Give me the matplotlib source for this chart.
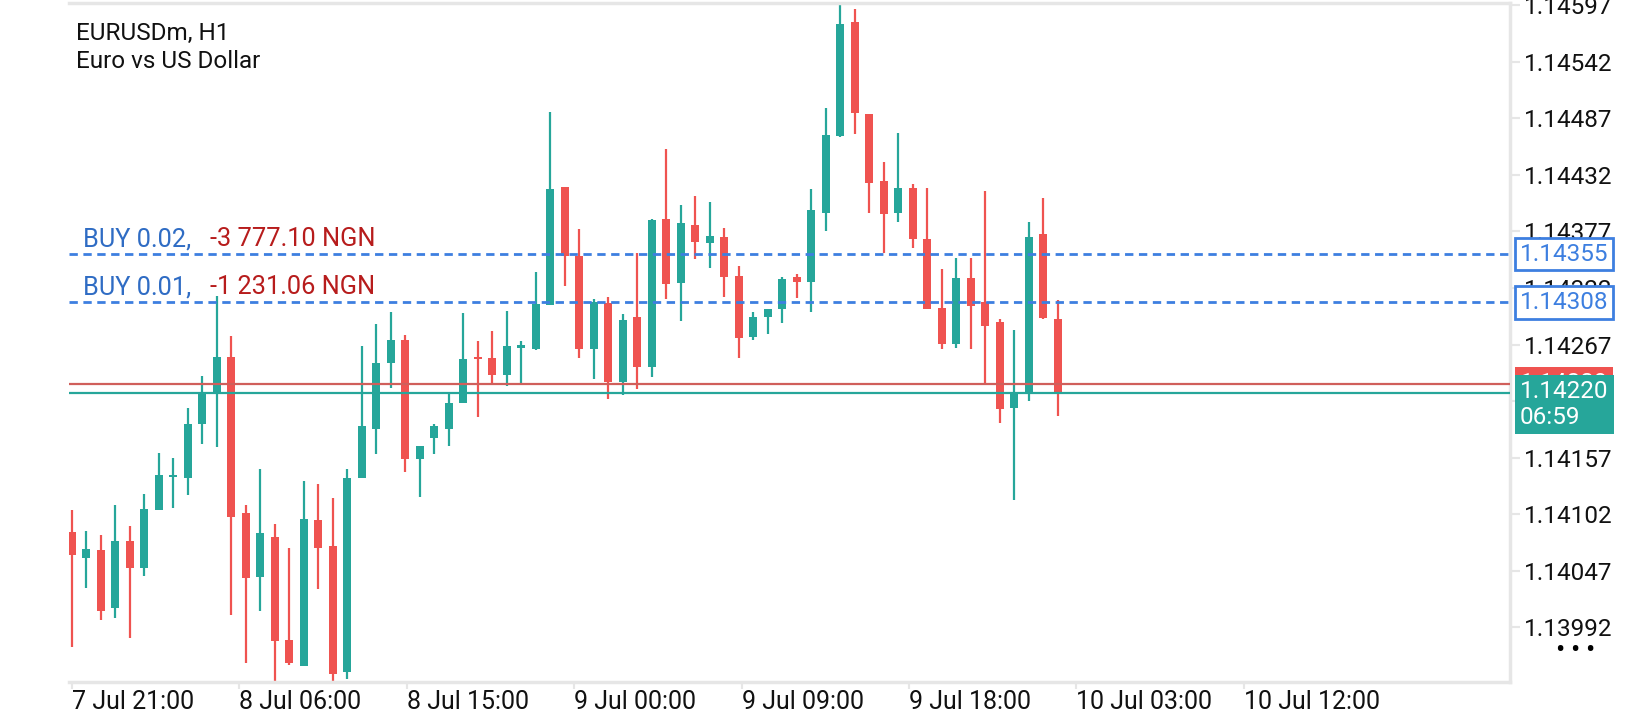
import matplotlib
matplotlib.use("Agg")
import matplotlib.pyplot as plt
import matplotlib.transforms as mtransforms
import numpy as np

plt.rcParams['font.family'] = ['Roboto', 'DejaVu Sans']

# EURUSDm H1 candles, oldest first
opens = [1.14085, 1.14060, 1.14067, 1.14011, 1.14076, 1.14050, 1.14106, 1.14138, 1.14137, 1.14190,
         1.14221, 1.14255, 1.14103, 1.14041, 1.14080, 1.13980, 1.13955, 1.14096, 1.14071, 1.13949,
         1.14137, 1.14185, 1.14249, 1.14271, 1.14156, 1.14176, 1.14185, 1.14210, 1.14255, 1.14254,
         1.14237, 1.14264, 1.14263, 1.14305, 1.14420, 1.14353, 1.14263, 1.14307, 1.14231, 1.14294,
         1.14245, 1.14389, 1.14327, 1.14383, 1.14366, 1.14372, 1.14334, 1.14274, 1.14294, 1.14302,
         1.14333, 1.14328, 1.14395, 1.14470, 1.14581, 1.14491, 1.14426, 1.14395, 1.14419, 1.14370,
         1.14303, 1.14268, 1.14332, 1.14308, 1.14289, 1.14205, 1.14221, 1.14374, 1.14292]
highs = [1.14106, 1.14086, 1.14082, 1.14111, 1.14091, 1.14122, 1.14162, 1.14157, 1.14205, 1.14236,
         1.14314, 1.14275, 1.14111, 1.14146, 1.14093, 1.14069, 1.14134, 1.14131, 1.14118, 1.14146,
         1.14266, 1.14287, 1.14299, 1.14276, 1.14168, 1.14190, 1.14220, 1.14298, 1.14270, 1.14280,
         1.14300, 1.14270, 1.14338, 1.14493, 1.14420, 1.14379, 1.14311, 1.14313, 1.14297, 1.14356,
         1.14389, 1.14457, 1.14403, 1.14411, 1.14406, 1.14380, 1.14343, 1.14299, 1.14302, 1.14333,
         1.14336, 1.14418, 1.14497, 1.14598, 1.14593, 1.14491, 1.14444, 1.14473, 1.14423, 1.14419,
         1.14340, 1.14351, 1.14351, 1.14416, 1.14292, 1.14281, 1.14386, 1.14409, 1.14310]
lows = [1.13973, 1.14030, 1.13999, 1.14001, 1.13982, 1.14042, 1.14106, 1.14108, 1.14121, 1.14170,
        1.14167, 1.14004, 1.13957, 1.14008, 1.13937, 1.13956, 1.13955, 1.14029, 1.13938, 1.13942,
        1.14137, 1.14161, 1.14225, 1.14143, 1.14119, 1.14161, 1.14168, 1.14210, 1.14197, 1.14229,
        1.14227, 1.14229, 1.14262, 1.14305, 1.14324, 1.14254, 1.14234, 1.14214, 1.14218, 1.14224,
        1.14235, 1.14311, 1.14290, 1.14350, 1.14341, 1.14313, 1.14254, 1.14271, 1.14277, 1.14288,
        1.14312, 1.14299, 1.14377, 1.14469, 1.14472, 1.14395, 1.14356, 1.14386, 1.14361, 1.14302,
        1.14263, 1.14264, 1.14263, 1.14229, 1.14191, 1.14116, 1.14212, 1.14292, 1.14198]
closes = [1.14062, 1.14068, 1.14008, 1.14076, 1.14050, 1.14107, 1.14140, 1.14140, 1.14190, 1.14221,
          1.14255, 1.14099, 1.14040, 1.14084, 1.13979, 1.13957, 1.14097, 1.14069, 1.13947, 1.14137,
          1.14188, 1.14249, 1.14271, 1.14156, 1.14168, 1.14188, 1.14210, 1.14253, 1.14253, 1.14237,
          1.14266, 1.14267, 1.14306, 1.14418, 1.14353, 1.14263, 1.14308, 1.14231, 1.14291, 1.14245,
          1.14388, 1.14326, 1.14385, 1.14367, 1.14373, 1.14333, 1.14273, 1.14294, 1.14302, 1.14331,
          1.14328, 1.14398, 1.14471, 1.14579, 1.14492, 1.14424, 1.14394, 1.14419, 1.14370, 1.14302,
          1.14268, 1.14332, 1.14304, 1.14285, 1.14204, 1.14219, 1.14372, 1.14293, 1.14220]

time_labels = ["7 Jul 21:00", "8 Jul 06:00", "8 Jul 15:00", "9 Jul 00:00",
               "9 Jul 09:00", "9 Jul 18:00", "10 Jul 03:00", "10 Jul 12:00"]
price_ticks = [1.14597, 1.14542, 1.14487, 1.14432, 1.14377, 1.14322, 1.14267,
               1.14212, 1.14157, 1.14102, 1.14047, 1.13992]

positions = [
    ("BUY 0.02,", "-3 777.10 NGN", 1.14355),
    ("BUY 0.01,", "-1 231.06 NGN", 1.14308),
]
bid = 1.14220
ask = 1.14229
bar_timer = "06:59"

UP = "#26a69a"
DOWN = "#ef5350"
BLUE = "#3d7fe0"
FRAME = "#e6e6e6"

fig = plt.figure(figsize=(16.4, 7.2), dpi=100)
ax = fig.add_axes([69 / 1640, 38 / 720, 1441 / 1640, 679 / 720])

x = np.arange(len(opens))
o = np.array(opens)
h = np.array(highs)
l = np.array(lows)
c = np.array(closes)
colors = np.where(c >= o, UP, DOWN)
body_lo = np.minimum(o, c)
body_h = np.maximum(np.abs(c - o), 0.000018)

ax.vlines(x, l, h, colors=colors, linewidth=1.6, zorder=2)
ax.bar(x, body_h, bottom=body_lo, width=0.56, color=colors, linewidth=0, zorder=3)

ax.set_xlim(-0.19, 99.2)
ax.set_ylim(1.13939, 1.14599)

# time axis
tick_pos = np.arange(len(time_labels)) * 11.55
ax.set_xticks(tick_pos)
ax.set_xticklabels(time_labels)
for t in ax.get_xticklabels():
    t.set_ha("left")
ax.tick_params(axis="x", direction="out", length=5, width=1.5, color=FRAME,
               labelsize=18, pad=1, labelcolor="#111111")

# price axis
ax.yaxis.tick_right()
ax.set_yticks(price_ticks)
ax.set_yticklabels(["%.5f" % p for p in price_ticks])
ax.tick_params(axis="y", direction="out", length=7, width=1.5, color=FRAME,
               labelsize=17.5, pad=3, labelcolor="#111111")

for s in ["top", "right", "bottom"]:
    ax.spines[s].set_color(FRAME)
    ax.spines[s].set_linewidth(2.5)
ax.spines["left"].set_visible(False)

# position lines
lab_tr = mtransforms.blended_transform_factory(fig.transFigure, ax.transData)
for side, profit, price in positions:
    ax.axhline(price, color=BLUE, linewidth=2, linestyle=(0, (3, 2)), zorder=4)
    ax.annotate(side, xy=(83 / 1640, price), xycoords=lab_tr, xytext=(0, 3),
                textcoords="offset pixels", color="#2f6cc4", fontsize=18.3, va="bottom")
    ax.annotate(profit, xy=(210 / 1640, price), xycoords=lab_tr, xytext=(0, 3),
                textcoords="offset pixels", color="#b71c1c", fontsize=18.3, va="bottom")
    ax.text(1520 / 1640, price, "%.5f" % price, transform=lab_tr, color=BLUE, fontsize=17.5,
            va="center", ha="left", zorder=6,
            bbox=dict(boxstyle="square,pad=0.2", fc="white", ec=BLUE, lw=2))

# bid / ask lines
ax.axhline(ask, color="#d05f5b", linewidth=1.6, zorder=4)
ax.axhline(bid, color=UP, linewidth=1.6, zorder=4)
ax.text(1520 / 1640, ask, "%.5f" % ask, transform=lab_tr, color="white", fontsize=17.5,
        va="center", ha="left", zorder=6,
        bbox=dict(boxstyle="square,pad=0.2", fc=DOWN, ec="none"))
ax.annotate("%.5f\n%s" % (bid, bar_timer), xy=(1520 / 1640, bid), xycoords=lab_tr,
            xytext=(0, 13), textcoords="offset pixels", color="white", fontsize=17.5,
            va="top", ha="left", linespacing=1.15, zorder=7,
            bbox=dict(boxstyle="square,pad=0.22", fc=UP, ec="none"))

fig.text(76 / 1640, 1 - 33 / 720, "EURUSDm, H1", fontsize=17.5, va="center", color="#111111")
fig.text(76 / 1640, 1 - 62 / 720, "Euro vs US Dollar", fontsize=17.5, va="center", color="#111111")
fig.text(1576 / 1640, 1 - 651 / 720, "\u2022\u2009\u2022\u2009\u2022", fontsize=20,
         ha="center", va="center", color="black")

fig.savefig("out.png", dpi=100)
